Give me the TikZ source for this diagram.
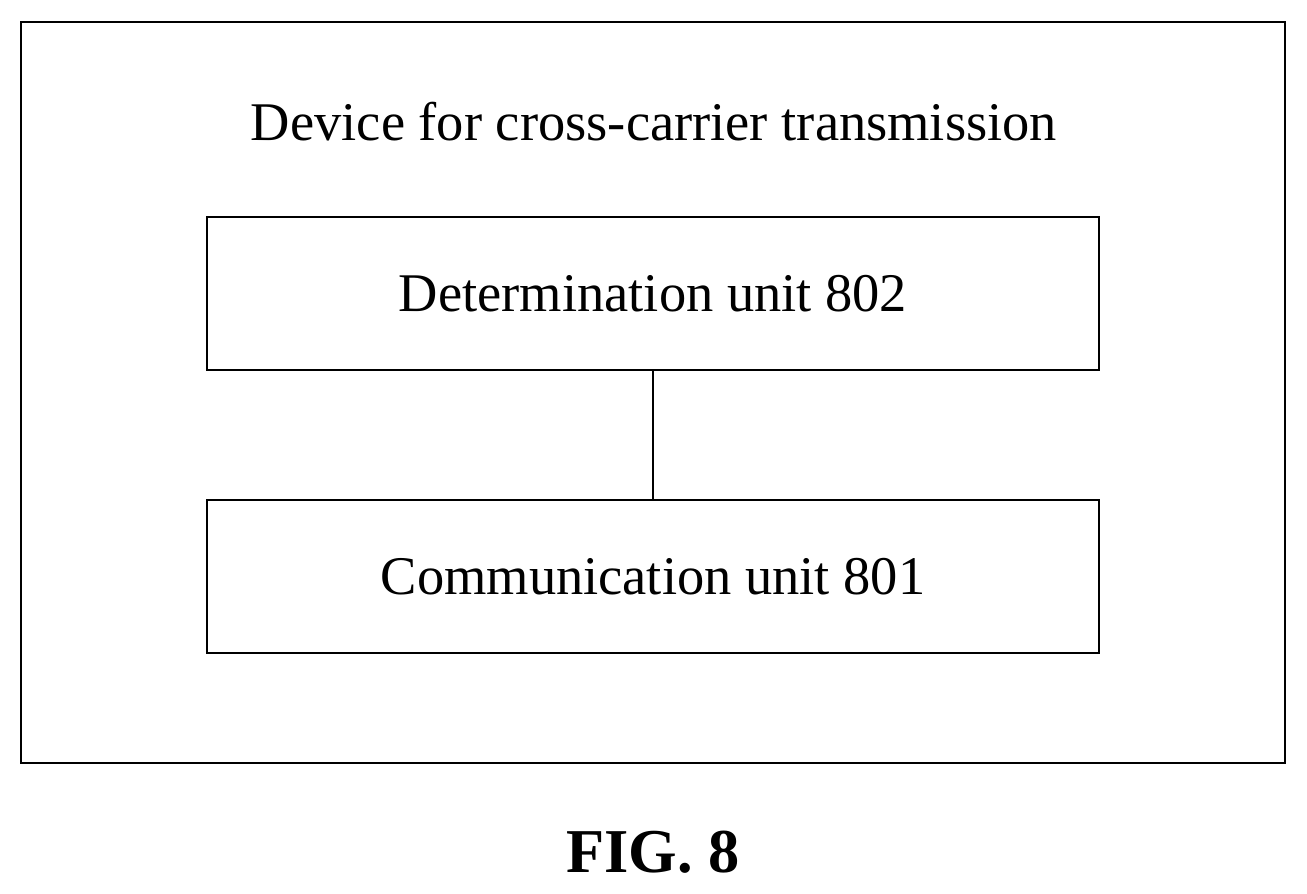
\documentclass[tikz,border=0pt]{standalone}
\usepackage{fontspec}
\setmainfont{Liberation Serif}
\begin{document}
\begin{tikzpicture}[x=0.02cm,y=-0.02cm,
  box/.style={draw,line width=1.3pt,inner sep=0},
  lbl/.style={font=\fontsize{31}{37}\selectfont}]
\useasboundingbox (0,0) rectangle (1307,893);
\draw[line width=1.3pt] (21,22) rectangle (1285,763);
\node[lbl] (title) at (654,122) {Device for cross-carrier transmission};
\node[box,minimum width=892*0.02cm,minimum height=153*0.02cm] (det) at (653,293.5) {};
\node[lbl] at (det) {Determination unit 802};
\node[box,minimum width=892*0.02cm,minimum height=153*0.02cm] (com) at (653,576.5) {};
\node[lbl] at (com) {Communication unit 801};
\draw[line width=1.3pt] (det.south) -- (com.north);
\node[font=\fontsize{35.5}{42}\selectfont\bfseries] (fig) at (653,852) {FIG. 8};
\end{tikzpicture}
\end{document}
